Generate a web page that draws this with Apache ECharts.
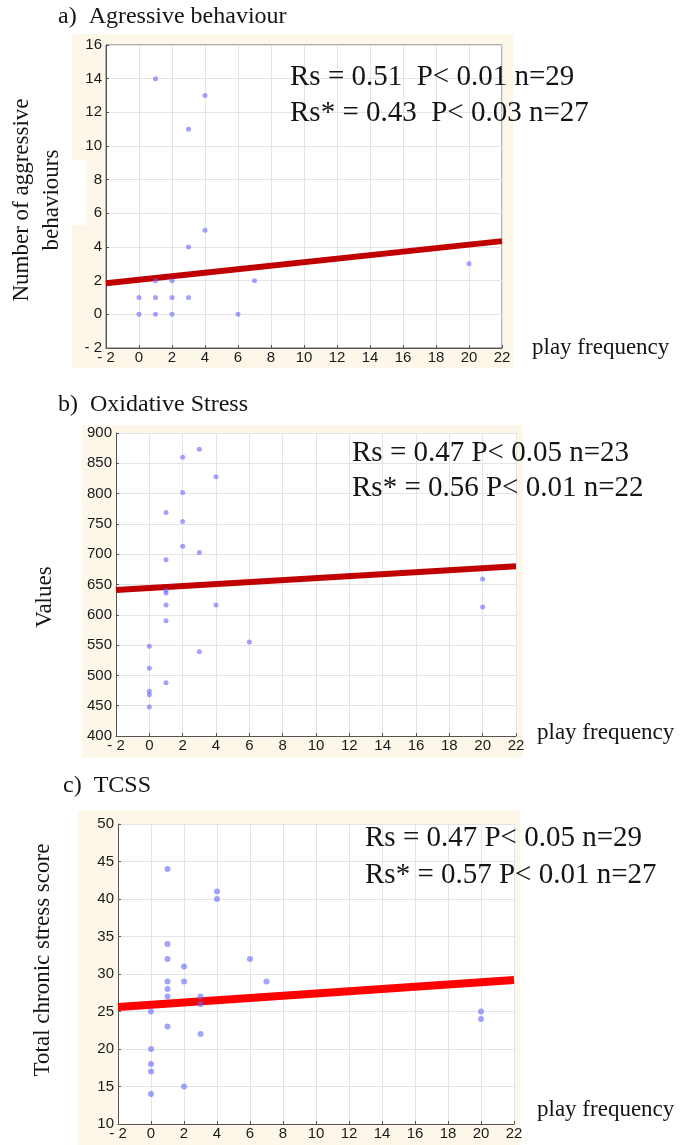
<!DOCTYPE html>
<html>
<head>
<meta charset="utf-8">
<script src="https://cdn.jsdelivr.net/npm/echarts@6/dist/echarts.min.js"></script>
<style>
html,body{margin:0;padding:0;background:#fff;}
#c{width:683px;height:1145px;}
</style>
</head>
<body>
<div id="c"></div>
<script>
// ---- data ----
const xTicks = [-2, 0, 2, 4, 6, 8, 10, 12, 14, 16, 18, 20, 22];

// a) Agressive behaviour
const aX = [0, 0, 1, 1, 1, 1, 2, 2, 2, 3, 3, 3, 4, 4, 6, 7, 20];
const aY = [0, 1, 0, 1, 2, 14, 0, 1, 2, 1, 4, 11, 5, 13, 0, 2, 3];
const aLineX = [-2, 22];
const aLineY = [1.85, 4.35];

// b) Oxidative Stress
const bX = [0, 0, 0, 0, 0, 1, 1, 1, 1, 1, 1, 1, 2, 2, 2, 2, 3, 3, 3, 4, 4, 6, 20, 20];
const bY = [548, 512, 474, 468, 448, 769, 691, 640, 636, 616, 590, 488, 860, 802, 754, 713, 873, 703, 539, 828, 616, 555, 659, 613];
const bLineX = [-2, 22];
const bLineY = [641, 680];

// c) TCSS
const cX = [0, 0, 0, 0, 0, 1, 1, 1, 1, 1, 1, 1, 2, 2, 2, 3, 3, 3, 4, 4, 6, 7, 20, 20];
const cY = [25, 20, 18, 17, 14, 44, 34, 32, 29, 28, 27, 23, 31, 29, 15, 27, 26, 22, 41, 40, 32, 29, 25, 24];
const cLineX = [-2, 22];
const cLineY = [25.6, 29.2];

const titles = ['a)  Agressive behaviour', 'b)  Oxidative Stress', 'c)  TCSS'];
const yNames = ['Number of aggressive\nbehaviours', 'Values', 'Total chronic stress score'];
const stats = [
  ['Rs = 0.51  P< 0.01 n=29', 'Rs* = 0.43  P< 0.03 n=27'],
  ['Rs = 0.47 P< 0.05 n=23', 'Rs* = 0.56 P< 0.01 n=22'],
  ['Rs = 0.47 P< 0.05 n=29', 'Rs* = 0.57 P< 0.01 n=27']
];
const xName = 'play frequency';

// ---- chart ----
const chart = echarts.init(document.getElementById('c'), null, {renderer: 'canvas'});
const serif = '"Liberation Serif", "Times New Roman", serif';
const sans = '"Liberation Sans", Arial, sans-serif';
const cream = '#fdf7ea';

const fmt = v => (v < 0 ? '- ' + Math.abs(v) : String(v));

function pair(xs, ys) { return xs.map((x, i) => [x, ys[i]]); }

const grids = [
  {left: 106, top: 45, width: 396, height: 303, show: true, backgroundColor: '#fff', borderColor: '#666', borderWidth: 1},
  {left: 116, top: 433, width: 400, height: 303, show: true, backgroundColor: '#fff', borderWidth: 0},
  {left: 118, top: 824, width: 396, height: 300, show: true, backgroundColor: '#fff', borderWidth: 0}
];

const yRanges = [
  {min: -2, max: 16, interval: 2},
  {min: 400, max: 900, interval: 50},
  {min: 10, max: 50, interval: 5}
];

const xAxes = grids.map((g, i) => ({
  type: 'value', gridIndex: i, min: -2, max: 22, interval: 2,
  axisLine: {show: true, onZero: false, lineStyle: {color: '#555', width: 1}},
  axisTick: {show: true, inside: true, length: 3, lineStyle: {color: '#555'}},
  axisLabel: {formatter: fmt, color: '#1a1a1a', fontFamily: sans, fontSize: 15, margin: 2},
  splitLine: {show: true, lineStyle: {color: '#e4e4e4', width: 1}}
}));

const yAxes = grids.map((g, i) => ({
  type: 'value', gridIndex: i, min: yRanges[i].min, max: yRanges[i].max, interval: yRanges[i].interval,
  axisLine: {show: true, onZero: false, lineStyle: {color: '#555', width: 1}},
  axisTick: {show: true, inside: true, length: 3, lineStyle: {color: '#555'}},
  axisLabel: {formatter: fmt, color: '#1a1a1a', fontFamily: sans, fontSize: 15, margin: 4},
  splitLine: {show: true, lineStyle: {color: '#e4e4e4', width: 1}}
}));

const ptStyle = {color: 'rgba(100,100,255,0.75)'};
const series = [
  {type: 'scatter', xAxisIndex: 0, yAxisIndex: 0, data: pair(aX, aY), symbolSize: 5, itemStyle: ptStyle, z: 3},
  {type: 'line', xAxisIndex: 0, yAxisIndex: 0, data: pair(aLineX, aLineY), symbol: 'none', lineStyle: {color: '#c00000', width: 6}, z: 2, silent: true},
  {type: 'scatter', xAxisIndex: 1, yAxisIndex: 1, data: pair(bX, bY), symbolSize: 5, itemStyle: ptStyle, z: 3},
  {type: 'line', xAxisIndex: 1, yAxisIndex: 1, data: pair(bLineX, bLineY), symbol: 'none', lineStyle: {color: '#c00000', width: 6}, z: 2, silent: true},
  {type: 'scatter', xAxisIndex: 2, yAxisIndex: 2, data: pair(cX, cY), symbolSize: 6, itemStyle: ptStyle, z: 3},
  {type: 'line', xAxisIndex: 2, yAxisIndex: 2, data: pair(cLineX, cLineY), symbol: 'none', lineStyle: {color: '#ff0000', width: 8}, z: 2, silent: true}
];

const txt = (x, y, s, size, extra) => Object.assign({
  type: 'text', x: x, y: y, z: 100,
  style: {text: s, font: size + 'px ' + serif, fill: '#151515', textVerticalAlign: 'middle'}
}, extra || {});

const graphic = [
  // cream backgrounds
  {type: 'rect', shape: {x: 72, y: 34, width: 441, height: 334}, style: {fill: cream}, z: -100},
  {type: 'rect', shape: {x: 0, y: 160, width: 86, height: 65}, style: {fill: '#fff'}, z: -99},
  {type: 'rect', shape: {x: 82, y: 425, width: 441, height: 333}, style: {fill: cream}, z: -100},
  {type: 'rect', shape: {x: 78, y: 810, width: 442, height: 335}, style: {fill: cream}, z: -100},
  // titles
  txt(58, 17, titles[0], 24),
  txt(58, 405, titles[1], 24),
  txt(63, 786, titles[2], 24),
  // y names (rotated)
  {type: 'text', x: 37, y: 200, rotation: Math.PI / 2, z: 100,
   style: {text: yNames[0], font: '23px ' + serif, fill: '#151515', textAlign: 'center', textVerticalAlign: 'middle', lineHeight: 30}},
  {type: 'text', x: 45, y: 597, rotation: Math.PI / 2, z: 100,
   style: {text: yNames[1], font: '23px ' + serif, fill: '#151515', textAlign: 'center', textVerticalAlign: 'middle'}},
  {type: 'text', x: 43, y: 960, rotation: Math.PI / 2, z: 100,
   style: {text: yNames[2], font: '23px ' + serif, fill: '#151515', textAlign: 'center', textVerticalAlign: 'middle'}},
  // stats
  txt(290, 77, stats[0][0], 29),
  txt(290, 113, stats[0][1], 29),
  txt(352, 453, stats[1][0], 29),
  txt(352, 488, stats[1][1], 29),
  txt(365, 838, stats[2][0], 29),
  txt(365, 875, stats[2][1], 29),
  // x names
  txt(532, 348, xName, 23),
  txt(537, 733, xName, 23),
  txt(537, 1110, xName, 23)
];

chart.setOption({
  animation: false,
  backgroundColor: '#fff',
  grid: grids,
  xAxis: xAxes,
  yAxis: yAxes,
  series: series,
  graphic: graphic
});
</script>
</body>
</html>
